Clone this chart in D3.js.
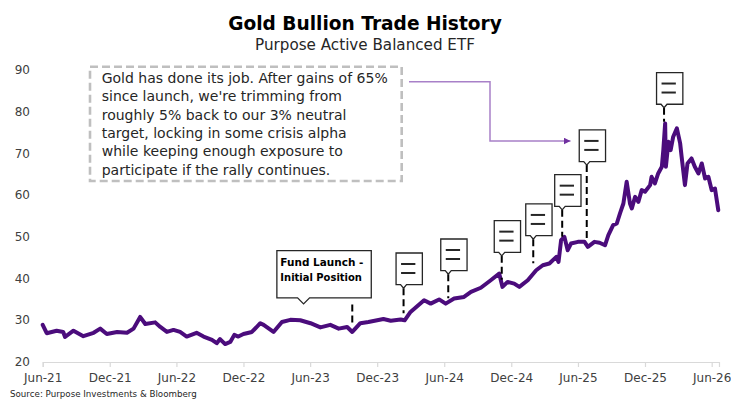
<!DOCTYPE html>
<html>
<head>
<meta charset="utf-8">
<script src="https://cdn.jsdelivr.net/npm/d3@7"></script>
<style>
  body { margin: 0; background: #fff; }
  svg { display: block; font-family: "DejaVu Sans", sans-serif; }
</style>
</head>
<body>
<svg id="chart" width="731" height="404"></svg>
<script>
// --- data ---
var dates = [
  "2021-06-01","2021-06-12","2021-07-09","2021-07-27","2021-08-01","2021-08-24","2021-09-20","2021-10-18",
  "2021-11-05","2021-11-23","2021-12-21","2022-01-17","2022-02-04","2022-02-22","2022-03-08","2022-04-04",
  "2022-04-18","2022-05-06","2022-05-24","2022-06-11","2022-06-29","2022-07-26","2022-08-14","2022-09-06",
  "2022-09-19","2022-09-28","2022-10-12","2022-10-26","2022-11-06","2022-11-17","2022-12-01","2022-12-24",
  "2023-01-16","2023-01-25","2023-02-21","2023-03-16","2023-04-08","2023-05-05","2023-06-02","2023-06-29",
  "2023-07-26","2023-08-18","2023-09-10","2023-09-24","2023-10-16","2023-11-07","2023-12-01","2023-12-18",
  "2024-01-07","2024-02-03","2024-02-14","2024-03-01","2024-04-07","2024-04-25","2024-05-18","2024-06-05",
  "2024-06-28","2024-07-25","2024-08-13","2024-09-09","2024-10-06","2024-10-29","2024-11-07","2024-11-21",
  "2024-12-09","2024-12-23","2025-01-15","2025-02-07","2025-02-25","2025-03-15","2025-04-03","2025-04-09",
  "2025-04-16","2025-04-25","2025-05-04","2025-05-13","2025-06-01","2025-06-19","2025-06-28","2025-07-16",
  "2025-07-30","2025-08-14","2025-08-23","2025-09-05","2025-09-15","2025-09-24","2025-10-03","2025-10-12",
  "2025-10-21","2025-10-26","2025-11-04","2025-11-13","2025-11-22","2025-12-01","2025-12-15","2025-12-19",
  "2025-12-28","2026-01-06","2026-01-16","2026-01-20","2026-01-25","2026-01-27","2026-02-03","2026-02-09",
  "2026-02-16","2026-02-26","2026-03-07","2026-03-11","2026-03-20","2026-03-27","2026-04-07","2026-04-16",
  "2026-04-26","2026-05-05","2026-05-14","2026-05-23","2026-06-01","2026-06-10","2026-06-19"
];
var prices = [
  28.9,26.9,27.5,27.2,26.0,27.5,26.2,27.0,
  28.0,26.7,27.2,27.0,28.0,30.8,29.1,29.5,
  28.4,27.2,27.7,27.2,26.1,27.0,26.1,25.3,
  24.5,25.5,24.3,24.8,26.5,26.1,26.7,27.2,
  29.3,28.9,27.2,29.6,30.1,30.0,29.3,28.3,
  28.9,28.0,28.4,27.2,29.3,29.6,30.0,30.3,
  29.9,30.2,30.0,32.0,34.8,34.0,35.0,34.0,
  35.2,35.6,36.8,37.8,39.6,41.2,38.0,39.2,
  38.8,38.0,39.6,42.0,43.2,43.6,45.2,44.0,
  49.2,50.0,46.8,48.4,48.8,48.8,47.6,48.8,
  48.6,48.0,50.4,52.8,53.2,55.7,58.0,63.2,
  58.0,56.8,59.6,58.4,61.2,60.8,62.4,64.4,
  62.8,65.2,66.8,70.8,77.2,66.8,72.8,70.8,
  74.0,76.0,72.4,69.2,62.4,67.6,68.8,66.8,
  65.2,67.6,64.0,64.4,61.2,61.6,56.4
];

// trades marked on the chart (fund launch first)
var launchDate = "2023-09-24";
var launchPrice = 27.3;
var tradeDates = ["2024-02-11","2024-06-12","2024-11-05","2025-01-30","2025-04-19","2025-06-25","2026-01-22"];
var tradePrices = [30.5, 34.1, 38.5, 42.5, 48.8, 48.5, 76.4];

var yTicks = [20, 30, 40, 50, 60, 70, 80, 90];
var xTicks = ["2021-06-01","2021-12-01","2022-06-01","2022-12-01","2023-06-01","2023-12-01",
              "2024-06-01","2024-12-01","2025-06-01","2025-12-01","2026-06-01"];

var title = "Gold Bullion Trade History";
var subtitle = "Purpose Active Balanced ETF";
var note = [
  "Gold has done its job. After gains of 65%",
  "since launch, we're trimming from",
  "roughly 5% back to our 3% neutral",
  "target, locking in some crisis alpha",
  "while keeping enough exposure to",
  "participate if the rally continues."
];
var launchText = ["Fund Launch -", "Initial Position"];
var source = "Source: Purpose Investments & Bloomberg";

// --- layout ---
var leaderLen = [25, 24, 24, 24, 27, 73, 14];
var parse = d3.timeParse("%Y-%m-%d");
var svg = d3.select("#chart");

var x = d3.scaleTime()
  .domain([parse("2021-06-01"), parse("2026-06-21")])
  .range([42.7, 719]);
var y = d3.scaleLinear().domain([20, 90]).range([362, 70]);

function fitWidth(sel, w) {
  var len = sel.node().getComputedTextLength();
  var fs = parseFloat(sel.attr("font-size"));
  sel.attr("font-size", fs * w / len);
  return fs * w / len;
}

// titles
var t = svg.append("text").attr("x", 365).attr("y", 30).attr("text-anchor", "middle")
  .attr("font-size", 18).attr("font-weight", "bold").attr("fill", "#000").text(title);
fitWidth(t, 274);
var st = svg.append("text").attr("x", 365).attr("y", 49.5).attr("text-anchor", "middle")
  .attr("font-size", 14).attr("fill", "#262626").text(subtitle);
fitWidth(st, 220);

// y labels, no axis line
svg.append("g").selectAll("text").data(yTicks).enter().append("text")
  .attr("x", 30).attr("y", function(d) { return y(d); })
  .attr("dy", "0.35em").attr("text-anchor", "end")
  .attr("font-size", 12).attr("fill", "#404040")
  .text(function(d) { return d; });

// x axis
var xAxis = d3.axisBottom(x)
  .tickValues(xTicks.map(parse))
  .tickFormat(d3.timeFormat("%b-%y"))
  .tickSizeOuter(0).tickSize(5).tickPadding(6);
var gx = svg.append("g").attr("transform", "translate(0,362)").call(xAxis);
gx.select(".domain").attr("stroke", "#d9d9d9").attr("stroke-width", 1.2);
gx.selectAll(".tick line").attr("stroke", "#d9d9d9").attr("stroke-width", 1.2);
gx.selectAll(".tick text").attr("font-size", 12).attr("fill", "#404040")
  .attr("font-family", "DejaVu Sans, sans-serif");

// price line
var series = dates.map(function(d, i) { return {date: parse(d), value: prices[i]}; });
var line = d3.line().x(function(d) { return x(d.date); }).y(function(d) { return y(d.value); });
svg.append("path").datum(series)
  .attr("d", line).attr("fill", "none")
  .attr("stroke", "#4b0c7c").attr("stroke-width", 4)
  .attr("stroke-linejoin", "round").attr("stroke-linecap", "round");

// note box
svg.append("rect").attr("x", 90).attr("y", 66.7).attr("width", 311.7).attr("height", 114.3)
  .attr("fill", "#fff").attr("stroke", "#bfbfbf").attr("stroke-width", 2.6)
  .attr("stroke-dasharray", "8,4");
var noteLines = svg.append("g").selectAll("text").data(note).enter().append("text")
  .attr("x", 101.7).attr("y", function(d, i) { return 83 + i * 18.3; })
  .attr("font-size", 14).attr("fill", "#262626").text(function(d) { return d; });
var fs = fitWidth(d3.select(noteLines.nodes()[0]), 286.5);
noteLines.attr("font-size", fs);

// arrow from the note to the 6th trade
svg.append("defs").append("marker").attr("id", "arrow").attr("viewBox", "0 0 10 10")
  .attr("refX", 10).attr("refY", 5).attr("markerWidth", 7).attr("markerHeight", 7)
  .attr("markerUnits", "userSpaceOnUse").attr("orient", "auto")
  .append("path").attr("d", "M0,0L10,5L0,10Z").attr("fill", "#7030a0");
svg.append("path").attr("d", "M409,81.7H490V141H570.5")
  .attr("fill", "none").attr("stroke", "#a880c8").attr("stroke-width", 1.5)
  .attr("marker-end", "url(#arrow)");

// launch callout
var lx = x(parse(launchDate));
var lEnd = y(launchPrice) - 5;
var lTop = lEnd - 22;
svg.append("line").attr("x1", lx).attr("x2", lx).attr("y1", lTop).attr("y2", lEnd)
  .attr("stroke", "#000").attr("stroke-width", 2).attr("stroke-dasharray", "7,4");
var bx = lx - 75.4, bw = 94.4, bh = 47.3, bb = lTop - 6.7, nx = bx + 26.7;
svg.append("path")
  .attr("d", "M" + bx + "," + (bb - bh) + "H" + (bx + bw) + "V" + bb + "H" + (nx + 6) +
    "L" + nx + "," + (bb + 6) + "L" + (nx - 6) + "," + bb + "H" + bx + "Z")
  .attr("fill", "#fff").attr("stroke", "#262626").attr("stroke-width", 1.3);
launchText.forEach(function(s, i) {
  var tt = svg.append("text").attr("x", bx + 3.5).attr("y", bb - bh + 15.7 + i * 14.3)
    .attr("font-size", 12).attr("font-weight", "bold").attr("fill", "#000").text(s);
  fitWidth(tt, i === 0 ? 83 : 81.6);
});

// trade callouts
tradeDates.forEach(function(d, i) {
  var tx = x(parse(d));
  var end = y(tradePrices[i]) - 5;
  var tip = end - leaderLen[i];
  var g = svg.append("g");
  g.append("line").attr("x1", tx).attr("x2", tx).attr("y1", tip).attr("y2", end)
    .attr("stroke", "#000").attr("stroke-width", 2).attr("stroke-dasharray", "7,4");
  var left = tx - 7.5, w = 26.3, h = 31.7, bot = tip - 3.5;
  g.append("path")
    .attr("d", "M" + left + "," + (bot - h) + "H" + (left + w) + "V" + bot + "H" + (tx + 3) +
      "L" + tx + "," + (bot + 3.5) + "L" + (tx - 3) + "," + bot + "H" + left + "Z")
    .attr("fill", "#fff").attr("stroke", "#262626").attr("stroke-width", 1.3);
  [11, 20].forEach(function(off) {
    g.append("line").attr("x1", left + 5).attr("x2", left + 19.3)
      .attr("y1", bot - h + off).attr("y2", bot - h + off)
      .attr("stroke", "#262626").attr("stroke-width", 2);
  });
});

// source
var src = svg.append("text").attr("x", 10).attr("y", 397).attr("font-size", 9)
  .attr("fill", "#262626").text(source);
fitWidth(src, 187);
</script>
</body>
</html>
